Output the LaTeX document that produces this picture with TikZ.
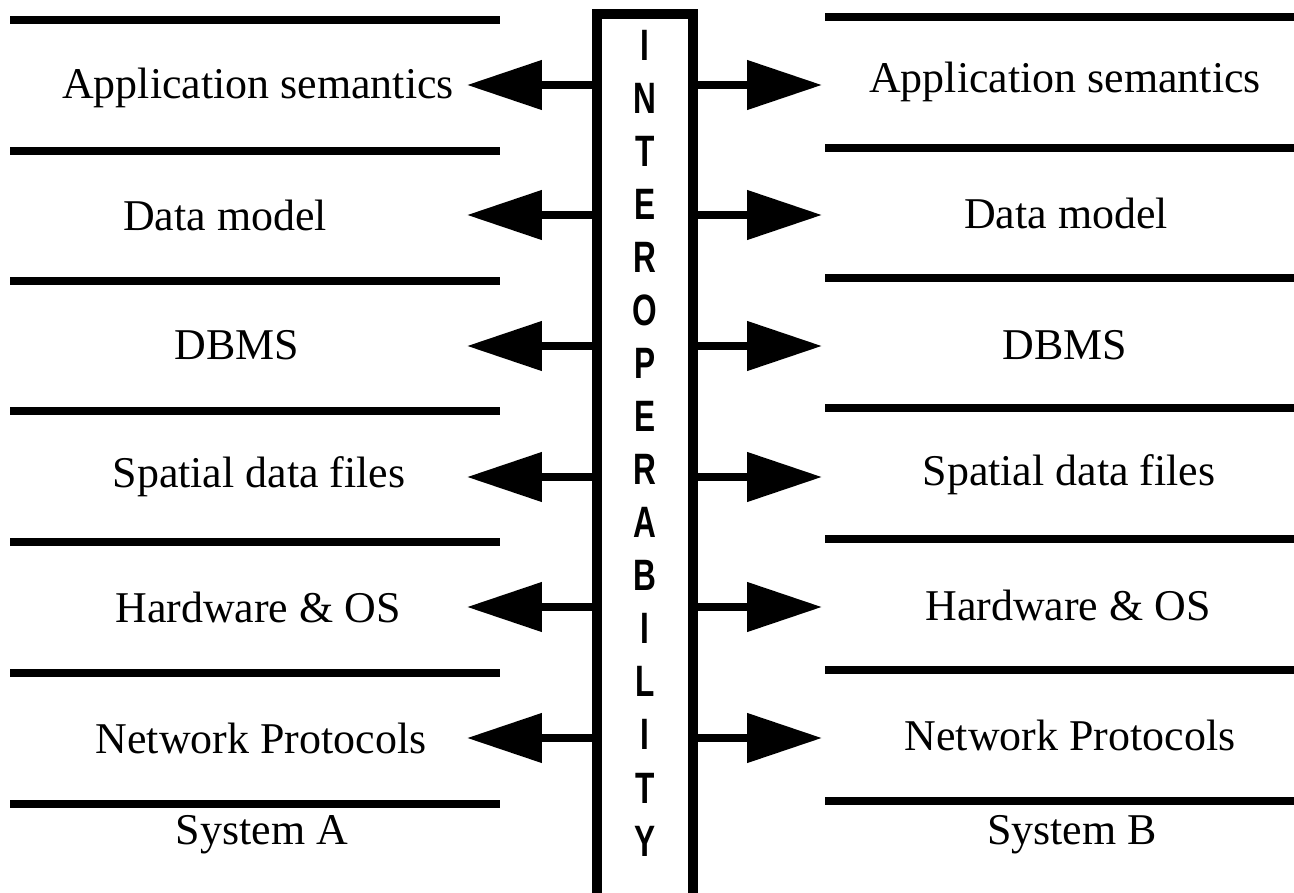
\documentclass[tikz,border=0pt]{standalone}
\usepackage{fontspec}
\setmainfont{Liberation Serif}
\newfontfamily\stackfont[FakeStretch=0.72]{Liberation Sans}
\usetikzlibrary{arrows.meta}

\begin{document}
\begin{tikzpicture}[x=0.02cm,y=-0.02cm,
  layerline/.style={line width=4.3pt},
  layertext/.style={font=\fontsize{25pt}{30pt}\selectfont, inner sep=0pt},
  levelarrow/.style={line width=4.5pt, -{Triangle[length=1.5cm,width=0.96cm]}}]
\clip (0,0) rectangle (1294,892);
\draw[layerline] (10,20) -- (500,20);
\draw[layerline] (10,151) -- (500,151);
\draw[layerline] (10,281) -- (500,281);
\draw[layerline] (10,411) -- (500,411);
\draw[layerline] (10,542) -- (500,542);
\draw[layerline] (10,673) -- (500,673);
\draw[layerline] (10,804) -- (500,804);
\draw[layerline] (825,17) -- (1300,17);
\draw[layerline] (825,148) -- (1300,148);
\draw[layerline] (825,278) -- (1300,278);
\draw[layerline] (825,408) -- (1300,408);
\draw[layerline] (825,539) -- (1300,539);
\draw[layerline] (825,670) -- (1300,670);
\draw[layerline] (825,801) -- (1300,801);
\node[draw, line width=5.7pt, minimum width=1.92cm, minimum height=17.94cm, inner sep=0pt] (intbox) at (645,462) {};
\node[font=\stackfont\bfseries\fontsize{25pt}{30.2pt}\selectfont, align=center, inner sep=0pt] (intword) at (645,443) {I\\N\\T\\E\\R\\O\\P\\E\\R\\A\\B\\I\\L\\I\\T\\Y};
\node[layertext] (appA) at (258,88) {Application semantics};
\node[layertext] (dataA) at (225,215) {Data model};
\node[layertext] (dbmsA) at (237,345) {DBMS};
\node[layertext] (fileA) at (259,477) {Spatial data files};
\node[layertext] (hwA) at (258,607) {Hardware \& OS};
\node[layertext] (netA) at (261,738) {Network Protocols};
\node[layertext] (sysA) at (262,835) {System A};
\node[layertext] (appB) at (1065,82) {Application semantics};
\node[layertext] (dataB) at (1066,213) {Data model};
\node[layertext] (dbmsB) at (1065,345) {DBMS};
\node[layertext] (fileB) at (1069,475) {Spatial data files};
\node[layertext] (hwB) at (1068,605) {Hardware \& OS};
\node[layertext] (netB) at (1070,735) {Network Protocols};
\node[layertext] (sysB) at (1072,835) {System B};
\coordinate (tipA1) at (467,85);
\coordinate (tipA2) at (467,215);
\coordinate (tipA3) at (467,346);
\coordinate (tipA4) at (467,477);
\coordinate (tipA5) at (467,607);
\coordinate (tipA6) at (467,738);
\coordinate (tipB1) at (822,85);
\coordinate (tipB2) at (822,215);
\coordinate (tipB3) at (822,346);
\coordinate (tipB4) at (822,477);
\coordinate (tipB5) at (822,607);
\coordinate (tipB6) at (822,738);
\draw[levelarrow] (intbox.west |- tipA1) -- (tipA1);
\draw[levelarrow] (intbox.west |- tipA2) -- (tipA2);
\draw[levelarrow] (intbox.west |- tipA3) -- (tipA3);
\draw[levelarrow] (intbox.west |- tipA4) -- (tipA4);
\draw[levelarrow] (intbox.west |- tipA5) -- (tipA5);
\draw[levelarrow] (intbox.west |- tipA6) -- (tipA6);
\draw[levelarrow] (intbox.east |- tipB1) -- (tipB1);
\draw[levelarrow] (intbox.east |- tipB2) -- (tipB2);
\draw[levelarrow] (intbox.east |- tipB3) -- (tipB3);
\draw[levelarrow] (intbox.east |- tipB4) -- (tipB4);
\draw[levelarrow] (intbox.east |- tipB5) -- (tipB5);
\draw[levelarrow] (intbox.east |- tipB6) -- (tipB6);
\end{tikzpicture}
\end{document}
